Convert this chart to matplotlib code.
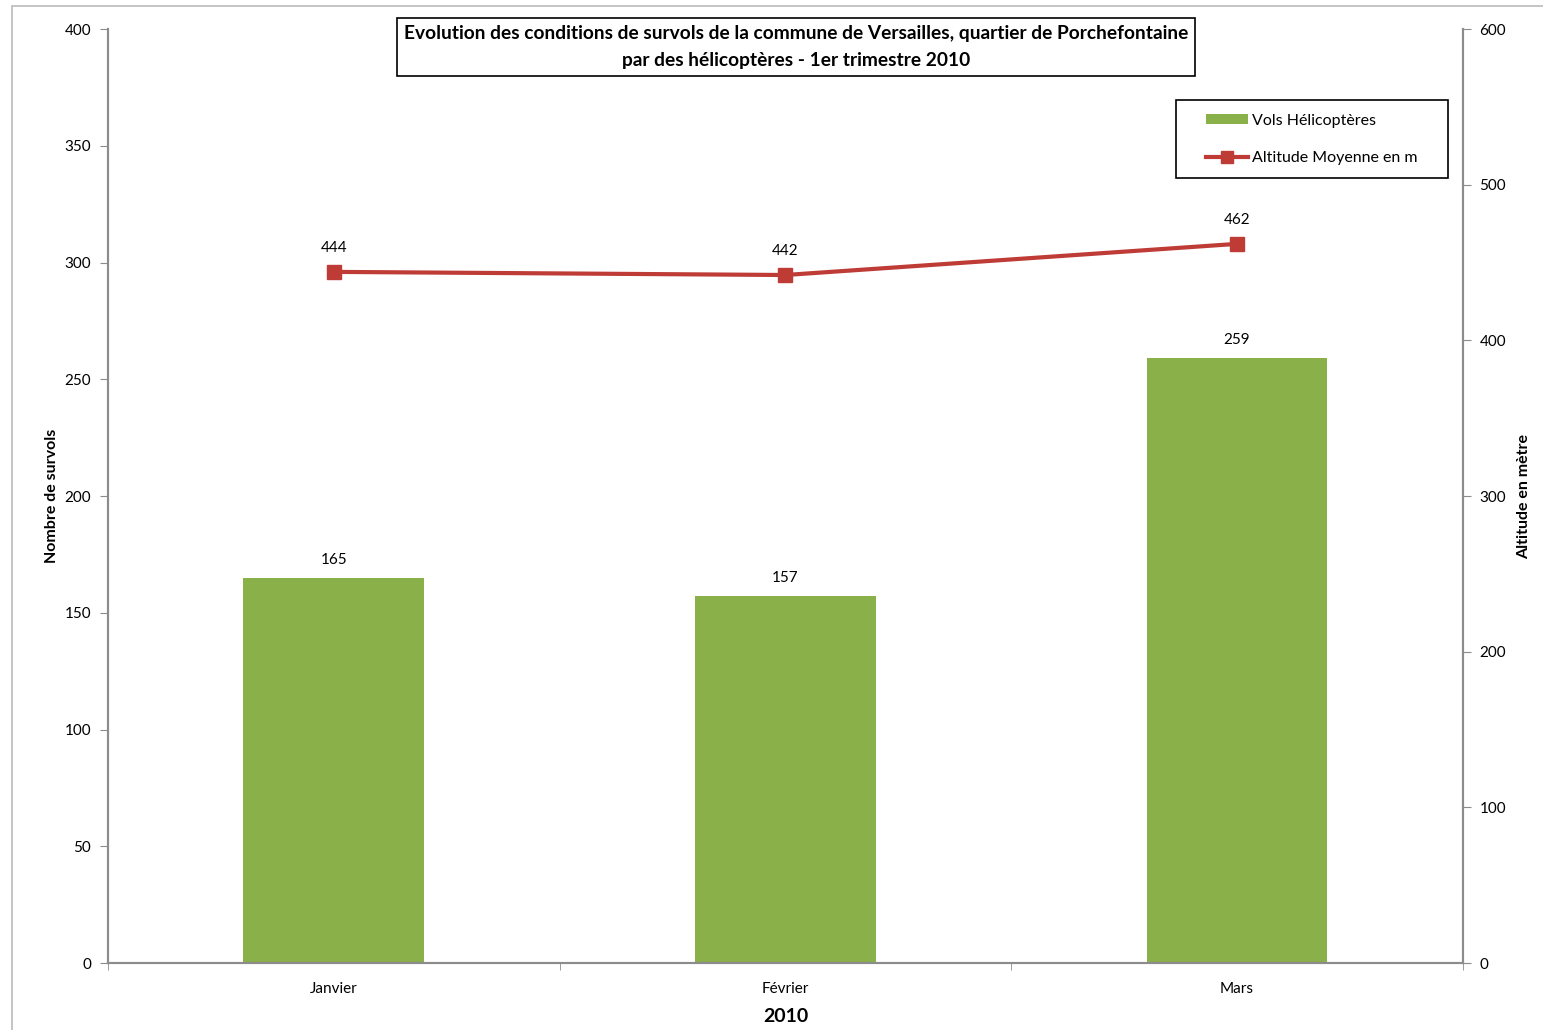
import numpy as np
import matplotlib as mpl
import matplotlib.pyplot as plt
from matplotlib.lines import Line2D
from matplotlib.patches import Patch, Rectangle

plt.rcParams['font.family'] = ['Lato', 'DejaVu Sans']

months = ['Janvier', 'Février', 'Mars']
vols = [165, 157, 259]
altitude = [444, 442, 462]

green = '#8AB04A'
red = '#BE3B36'
grey = '#8C8C8C'

W, H = 1543, 1030
fig = plt.figure(figsize=(W / 100, H / 100), dpi=100)
ax = fig.add_axes([0.070, 0.065, 0.878, 0.9068])
ax2 = ax.twinx()

x = np.arange(len(months))
ax.bar(x, vols, width=0.4, color=green, zorder=2)
for xi, v in zip(x, vols):
    ax.annotate(str(v), (xi, v), xytext=(0, 8), textcoords='offset points',
                ha='center', va='bottom', fontsize=11)

ax2.plot(x, altitude, color=red, linewidth=3, marker='s', markersize=10, zorder=3)
for xi, v in zip(x, altitude):
    ax2.annotate(str(v), (xi, v), xytext=(0, 12), textcoords='offset points',
                 ha='center', va='bottom', fontsize=11)

ax.set_xlim(-0.5, 2.5)
ax.set_ylim(0, 400)
ax2.set_ylim(0, 600)
ax.set_yticks(np.arange(0, 401, 50))
ax2.set_yticks(np.arange(0, 601, 100))

ax.set_xticks(x)
ax.set_xticklabels(months, fontsize=11)
ax.set_xticks([-0.5, 0.5, 1.5, 2.5], minor=True)
ax.tick_params(axis='x', which='major', length=0, pad=14)
ax.tick_params(axis='x', which='minor', length=5, color=grey, direction='out')
ax.tick_params(axis='y', labelsize=11, length=6, color=grey, direction='out', pad=6)
ax2.tick_params(axis='y', labelsize=11, length=6, color=grey, direction='out', pad=6)

for a in (ax, ax2):
    a.spines['top'].set_visible(False)
    for s in ('left', 'right', 'bottom'):
        a.spines[s].set_color(grey)
        a.spines[s].set_linewidth(1.5)

ax.set_ylabel('Nombre de survols', fontsize=11.5, fontweight='bold', labelpad=4)
ax2.set_ylabel('Altitude en mètre', fontsize=11.5, fontweight='bold', labelpad=8)
ax.set_xlabel('2010', fontsize=14, fontweight='bold', labelpad=8)

fig.text(0.516, 1 - 47 / H, "Evolution des conditions de survols de la commune de Versailles, quartier de Porchefontaine\npar des hélicoptères - 1er trimestre 2010",
         ha='center', va='center', fontsize=13.8, fontweight='bold', linespacing=1.7,
         bbox=dict(boxstyle='square,pad=0.36', facecolor='white', edgecolor='black', linewidth=1.2))

# legend: entries without frame, box drawn separately
handles = [Patch(facecolor=green),
           Line2D([], [], color=red, linewidth=3, marker='s', markersize=8)]
leg = fig.legend(handles, ['Vols Hélicoptères', 'Altitude Moyenne en m'],
                 loc='center left', bbox_to_anchor=(1206 / W, 1 - 139.5 / H), fontsize=11.5,
                 frameon=False, borderpad=0, labelspacing=1.5, handlelength=2.6,
                 handleheight=0.6, handletextpad=0.3, borderaxespad=0)
fig.patches.append(Rectangle((1176 / W, 1 - 178 / H), 272 / W, 78 / H,
                             transform=fig.transFigure, fill=False,
                             edgecolor='black', linewidth=1.2))

fig.patches.append(Rectangle((0.008, -0.01), 1.0, 1.004, transform=fig.transFigure,
                             fill=False, edgecolor='#BBBBBB', linewidth=1.2))

fig.savefig('out.png', dpi=100)
